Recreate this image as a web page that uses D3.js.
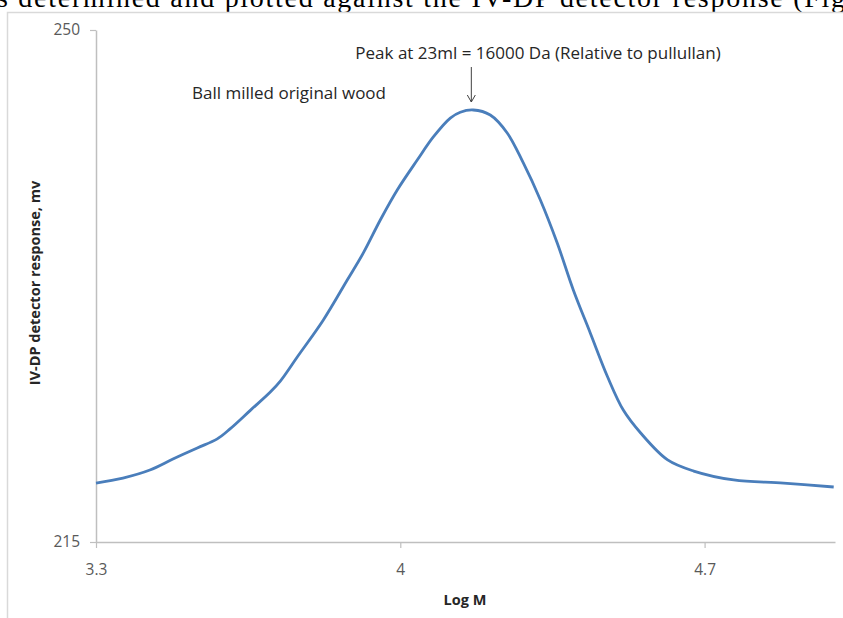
<!DOCTYPE html>
<html>
<head>
<meta charset="utf-8">
<script src="https://cdn.jsdelivr.net/npm/d3@7"></script>
<style>
  body { margin: 0; background: #fff; overflow: hidden; }
  svg { display: block; }
  .tick text { font-family: "Open Sans", sans-serif; font-size: 15.5px; fill: #595959; }
</style>
</head>
<body>
<div id="chart"></div>
<script>
// Log M values (x)
const logM = [3.300, 3.362, 3.424, 3.477, 3.533, 3.579, 3.609, 3.655, 3.701, 3.724,
  3.763, 3.823, 3.878, 3.915, 3.954, 3.993, 4.039, 4.076, 4.115, 4.138,
  4.168, 4.207, 4.246, 4.283, 4.322, 4.361, 4.398, 4.437, 4.477, 4.513,
  4.553, 4.615, 4.675, 4.767, 4.882, 4.997];

// detector response (mv)
const response = [219.03, 219.37, 219.92, 220.67, 221.43, 222.05, 222.75, 224.0, 225.25, 226.0,
  227.65, 230.18, 232.91, 234.76, 237.01, 239.06, 241.11, 242.69, 243.98, 244.38,
  244.53, 244.19, 242.96, 240.91, 238.4, 235.44, 232.23, 229.29, 226.28, 224.02,
  222.45, 220.61, 219.85, 219.24, 219.03, 218.76];

const xTicks = [3.3, 4, 4.7];
const yTicks = [215, 250];

const width = 843, height = 618;
const margin = { top: 30, right: 8, bottom: 76, left: 96 };

const svg = d3.select('#chart')
  .append('svg')
  .attr('width', width)
  .attr('height', height);

// cut-off line of document text above the chart
svg.append('text')
  .attr('x', -3)
  .attr('y', 7)
  .attr('textLength', 848)
  .attr('lengthAdjust', 'spacing')
  .style('font-family', '"Liberation Serif", "Times New Roman", serif')
  .style('font-size', '28px')
  .attr('fill', '#000')
  .text('s determined and plotted against the IV-DP detector response (Fig');

// chart frame
svg.append('rect')
  .attr('x', 7.5)
  .attr('y', 12.5)
  .attr('width', 900)
  .attr('height', 700)
  .attr('fill', 'none')
  .attr('stroke', '#d9d9d9')
  .attr('stroke-width', 1.5);

const x = d3.scaleLinear().domain([3.3, 5.0]).range([margin.left, 835]);
const y = d3.scaleLinear().domain([215, 250]).range([height - margin.bottom, margin.top]);

// axes
const xAxis = svg.append('g')
  .attr('transform', `translate(0,${y(215)})`)
  .call(d3.axisBottom(x).tickValues(xTicks).tickFormat(d3.format('')).tickSize(6).tickSizeOuter(0).tickPadding(16));

const yAxis = svg.append('g')
  .attr('transform', `translate(${x(3.3)},0)`)
  .call(d3.axisLeft(y).tickValues(yTicks).tickSize(6).tickSizeOuter(0).tickPadding(10));

[xAxis, yAxis].forEach(g => {
  g.select('.domain').attr('stroke', '#bfbfbf').attr('stroke-width', 1.5);
  g.selectAll('.tick line').attr('stroke', '#bfbfbf').attr('stroke-width', 1.2);
});

// axis titles
svg.append('text')
  .attr('x', 465)
  .attr('y', 605)
  .attr('text-anchor', 'middle')
  .style('font-family', '"Open Sans", sans-serif')
  .style('font-size', '14.5px')
  .style('font-weight', 'bold')
  .attr('fill', '#262626')
  .text('Log M');

svg.append('text')
  .attr('transform', 'translate(40,283) rotate(-90)')
  .attr('text-anchor', 'middle')
  .style('font-family', '"Open Sans", sans-serif')
  .style('font-size', '14.5px')
  .style('font-weight', 'bold')
  .attr('fill', '#262626')
  .text('IV-DP detector response,  mv');

// curve
const line = d3.line()
  .x((d, i) => x(logM[i]))
  .y(d => y(d))
  .curve(d3.curveCatmullRom.alpha(0.5));

svg.append('path')
  .datum(response)
  .attr('d', line)
  .attr('fill', 'none')
  .attr('stroke', '#4a7ebb')
  .attr('stroke-width', 2.8)
  .attr('stroke-linejoin', 'round');

// annotations
svg.append('text')
  .attr('x', 192)
  .attr('y', 99)
  .style('font-family', '"Open Sans", sans-serif')
  .style('font-size', '17px')
  .attr('fill', '#262626')
  .text('Ball milled original wood');

svg.append('text')
  .attr('x', 538)
  .attr('y', 59)
  .attr('text-anchor', 'middle')
  .style('font-family', '"Open Sans", sans-serif')
  .style('font-size', '17px')
  .attr('fill', '#262626')
  .text('Peak at 23ml = 16000 Da (Relative to pullullan)');

// arrow to the peak
const peakX = x(4.168) - 2;
svg.append('line')
  .attr('x1', peakX).attr('x2', peakX)
  .attr('y1', 67).attr('y2', 102)
  .attr('stroke', '#404040')
  .attr('stroke-width', 1);
svg.append('path')
  .attr('d', `M${peakX - 4},${95} L${peakX},${102} L${peakX + 4},${95}`)
  .attr('fill', 'none')
  .attr('stroke', '#404040')
  .attr('stroke-width', 1);
</script>
</body>
</html>
